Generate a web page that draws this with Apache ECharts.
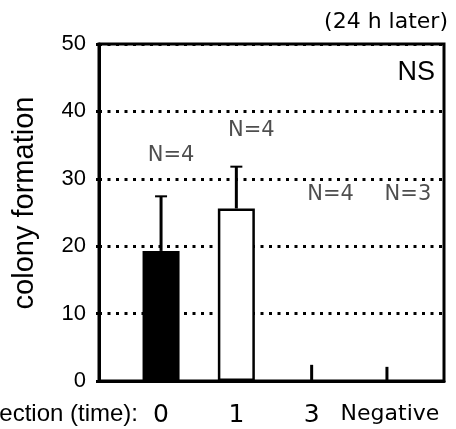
<!DOCTYPE html>
<html>
<head>
<meta charset="utf-8">
<script src="https://cdn.jsdelivr.net/npm/echarts@6/dist/echarts.min.js"></script>
<style>html,body{margin:0;padding:0;background:#fff;}#c{width:456px;height:429px;}</style>
</head>
<body>
<div id="c"></div>
<script>
// ---- data ----
var categories = ['0', '1', '3', 'Negative'];
var means = [19.3, 25.6, 0, 0];
var errorTop = [27.4, 31.8, 2.4, 2.1];
var nLabels = ['N=4', 'N=4', 'N=4', 'N=3'];
var nLabelY = [33.5, 37.2, 27.6, 27.6];
var barColors = ['#000000', '#ffffff', '#ffffff', '#ffffff'];
var yTicks = [0, 10, 20, 30, 40, 50];
var yTitle = 'colony formation';
var xTitle = 'Injection (time):';
var topNote = '(24 h later)';
var sigNote = 'NS';

var FONT = 'DejaVu Sans';
var ARIAL = 'Liberation Sans';
var labelShift = [10, 15, 19, 21]; // horizontal label nudges (style)
var chart = echarts.init(document.getElementById('c'), null, {renderer: 'canvas'});

var option = {
  backgroundColor: '#ffffff',
  animation: false,
  grid: [
    {left: 99, right: 12, top: 44, bottom: 48, show: true, borderColor: '#000', borderWidth: 3, backgroundColor: 'transparent'},
    {left: 123.4, right: 31.4, top: 44, bottom: 48}
  ],
  xAxis: [
    {gridIndex: 0, type: 'value', min: 0, max: 1, z: 10,
     axisLine: {show: true, lineStyle: {color: '#000', width: 3}},
     axisTick: {show: false}, axisLabel: {show: false}, splitLine: {show: false}},
    {gridIndex: 1, type: 'category', data: categories,
     axisLine: {show: false}, axisTick: {show: false},
     axisLabel: {
       interval: 0, hideOverlap: false,
       margin: 22, color: '#000', fontFamily: FONT,
       formatter: function (v) { return v === 'Negative' ? '{s|' + v + '}' : '{b|' + v + '}'; },
       rich: {b: {fontSize: 25, fontFamily: FONT, color: '#000'}, s: {fontSize: 22, fontFamily: FONT, color: '#000', padding: [0, 0, 0, 6]}}
     }}
  ],
  yAxis: [
    {gridIndex: 0, type: 'value', min: yTicks[0], max: yTicks[yTicks.length - 1], interval: 10,
     axisLine: {show: true, lineStyle: {color: '#000', width: 3}},
     axisTick: {show: true, length: 3, lineStyle: {color: '#000', width: 3}},
     axisLabel: {margin: 13, fontSize: 22, fontFamily: ARIAL, color: '#000'},
     splitLine: {show: true, lineStyle: {color: '#000', width: 3, type: [3, 5.5]}}},
    {gridIndex: 1, type: 'value', min: yTicks[0], max: yTicks[yTicks.length - 1], show: false}
  ],
  series: [
    {
      type: 'bar', xAxisIndex: 1, yAxisIndex: 1, barWidth: 37,
      data: means.map(function (v, i) {
        return {value: v, itemStyle: {color: barColors[i], borderColor: '#000', borderWidth: v > 0 ? 2.5 : 0}};
      }),
      z: 3
    },
    {
      type: 'custom', xAxisIndex: 1, yAxisIndex: 1, z: 4,
      data: means.map(function (m, i) { return [i, m, errorTop[i]]; }),
      renderItem: function (params, api) {
        var x = api.value(0), lo = api.value(1), hi = api.value(2);
        var p0 = api.coord([x, lo]), p1 = api.coord([x, hi]);
        var ch = [{type: 'line', shape: {x1: p0[0], y1: p0[1], x2: p1[0], y2: p1[1]}, style: {stroke: '#000', lineWidth: 3}}];
        if (lo > 0) {
          ch.push({type: 'line', shape: {x1: p1[0] - 6, y1: p1[1], x2: p1[0] + 6, y2: p1[1]}, style: {stroke: '#000', lineWidth: 2}});
        }
        return {type: 'group', children: ch};
      }
    },
    {
      type: 'scatter', xAxisIndex: 1, yAxisIndex: 1, symbolSize: 0, z: 5,
      data: nLabelY.map(function (y, i) {
        return {value: [i, y], name: nLabels[i], label: {offset: [labelShift[i], 0]}};
      }),
      label: {show: true, position: 'inside', formatter: '{b}',
              fontSize: 21, fontFamily: FONT, color: '#222'}
    }
  ],
  graphic: [
    {type: 'text', x: 25, y: 203, rotation: Math.PI / 2,
     style: {text: yTitle, font: '29px "Liberation Sans"', fill: '#000', align: 'center', verticalAlign: 'middle'}},
    {type: 'text', x: 138, y: 414,
     style: {text: xTitle, font: '24px "Liberation Sans"', fill: '#000', align: 'right', verticalAlign: 'middle'}},
    {type: 'text', x: 448, y: 22,
     style: {text: topNote, font: '22px "DejaVu Sans"', fill: '#000', align: 'right', verticalAlign: 'middle'}},
    {type: 'text', x: 435, y: 73, z: 20,
     style: {text: sigNote, font: '27px "Liberation Sans"', fill: '#000', align: 'right', verticalAlign: 'middle'}}
  ]
};
chart.setOption(option);
</script>
</body>
</html>
